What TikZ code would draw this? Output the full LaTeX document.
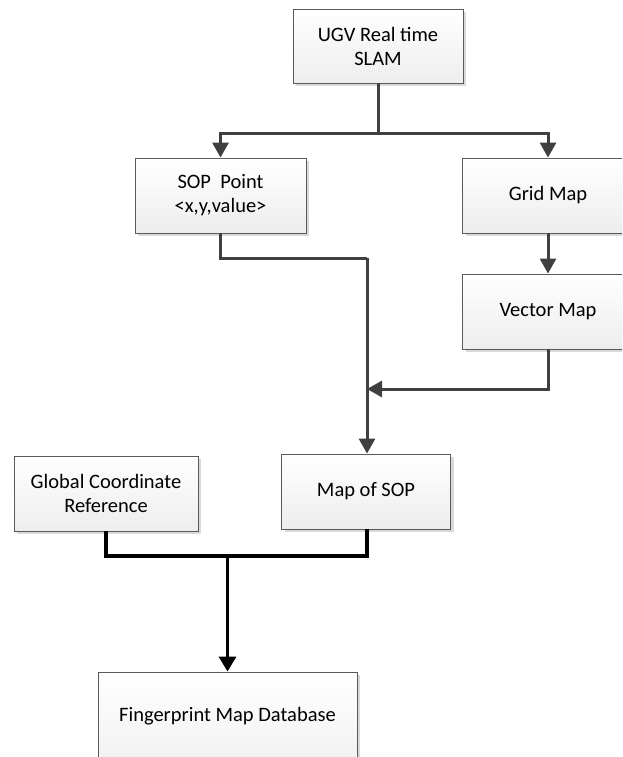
\documentclass[tikz,border=0pt]{standalone}
\usepackage{fontspec}
\setmainfont{Carlito}
\usetikzlibrary{arrows.meta,shadows,calc}
\definecolor{lineg}{HTML}{404040}
\definecolor{boxedge}{HTML}{5A5A5A}
\tikzset{
  box/.style={draw=boxedge, line width=0.9pt, top color=white, bottom color=gray!14,
    general shadow={fill=gray!30, shadow xshift=3pt, shadow yshift=-3pt},
    align=center, inner sep=0pt, font=\fontsize{20.5}{24}\selectfont},
  gline/.style={draw=lineg, line width=3pt},
  bline/.style={draw=black, line width=3.3pt},
  garrow/.style={gline, -{Triangle[length=15pt,width=16pt]}},
  barrow/.style={bline, -{Triangle[length=15pt,width=17pt]}}
}
\begin{document}
\begin{tikzpicture}[x=1pt,y=-1pt]
\clip (0,0) rectangle (622,757);
\fill[white] (0,0) rectangle (622,757);

\node[box, minimum width=170pt, minimum height=74pt] (slam) at (378,46) {UGV Real time\\SLAM};
\node[box, minimum width=171pt, minimum height=75pt] (sop) at (220.5,195.5) {SOP\ \ Point\\{<}x,y,value{>}};
\node[box, minimum width=171pt, minimum height=75pt] (grid) at (548,195.5) {Grid Map};
\node[box, minimum width=171pt, minimum height=75pt] (vec) at (548,311.5) {Vector Map};
\node[box, minimum width=169pt, minimum height=75pt] (map) at (366,491.5) {Map of SOP};
\node[box, minimum width=184pt, minimum height=75pt] (glob) at (106,493.5) {Global Coordinate\\Reference};
\node[box, minimum width=259pt, minimum height=120pt] (fp) at (227.5,732) {};
\node[font=\fontsize{20.5}{24}\selectfont] (fpt) at (227.5,716) {Fingerprint Map Database};

\coordinate (j1) at (378,133);
\coordinate (j2) at (367,258);
\coordinate (j3) at (367,389);
\coordinate (j4) at (367,556);
\coordinate (j5) at (227.5,556);

\draw[gline] (slam.south -| j1) -- (j1);
\draw[garrow] (j1) -| (sop.north);
\draw[garrow] (j1) -| (grid.north);
\draw[garrow] (grid) -- (vec);
\draw[gline] (sop.south) |- (j2);
\draw[garrow] (vec.south) |- (j3);
\draw[garrow] (j2) -- (map.north -| j2);

\draw[bline] (glob.south) |- (j4) -- (map.south -| j4);
\draw[barrow] (j5) -- (fp.north);
\end{tikzpicture}
\end{document}
